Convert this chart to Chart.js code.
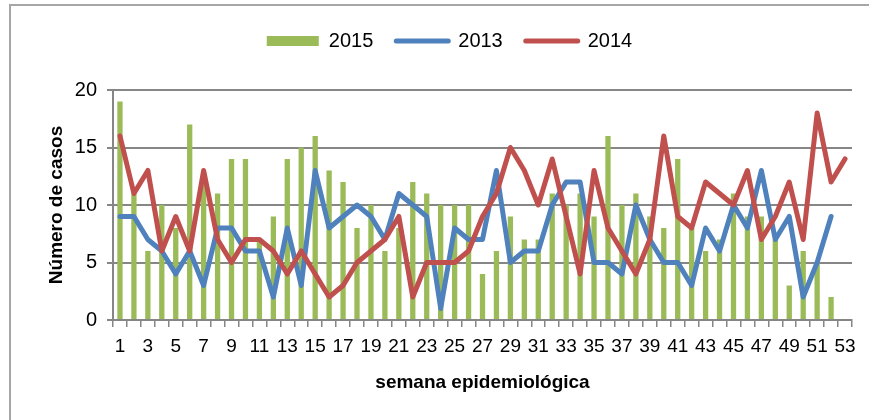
<!DOCTYPE html>
<html>
<head>
<meta charset="utf-8">
<script src="https://cdn.jsdelivr.net/npm/chart.js@4"></script>
<style>
  body { margin: 0; background: #fff; }
  canvas { display: block; }
</style>
</head>
<body>
<canvas id="casosChart" width="869" height="420"></canvas>
<script>
// semana epidemiológica 1..53
var weeks = [1, 2, 3, 4, 5, 6, 7, 8, 9, 10, 11, 12, 13, 14, 15, 16, 17, 18, 19, 20,
             21, 22, 23, 24, 25, 26, 27, 28, 29, 30, 31, 32, 33, 34, 35, 36, 37, 38, 39, 40,
             41, 42, 43, 44, 45, 46, 47, 48, 49, 50, 51, 52, 53];

var casos2015 = [19, 11, 6, 10, 8, 17, 12, 11, 14, 14, 7, 9, 14, 15, 16, 13, 12, 8, 10, 6,
                 8, 12, 11, 10, 10, 10, 4, 6, 9, 7, 7, 11, 10, 11, 9, 16, 10, 11, 9, 8,
                 14, 8, 6, 7, 11, 9, 9, 7, 3, 6, 5, 2, null];

var casos2013 = [9, 9, 7, 6, 4, 6, 3, 8, 8, 6, 6, 2, 8, 3, 13, 8, 9, 10, 9, 7,
                 11, 10, 9, 1, 8, 7, 7, 13, 5, 6, 6, 10, 12, 12, 5, 5, 4, 10, 7, 5,
                 5, 3, 8, 6, 10, 8, 13, 7, 9, 2, 5, 9, null];

var casos2014 = [16, 11, 13, 6, 9, 6, 13, 7, 5, 7, 7, 6, 4, 6, 4, 2, 3, 5, 6, 7,
                 9, 2, 5, 5, 5, 6, 9, 11, 15, 13, 10, 14, 9, 4, 13, 8, 6, 4, 7, 16,
                 9, 8, 12, 11, 10, 13, 7, 9, 12, 7, 18, 12, 14];

const GREEN = '#9bbb59';
const BLUE = '#4f81bd';
const RED = '#c0504d';
const AXIS_GRAY = '#868686';

Chart.defaults.font.family = "'Liberation Sans Narrow', 'Arial Narrow', 'Liberation Sans', Arial, sans-serif";
Chart.defaults.color = '#000';

// light frame round the chart (left and top edges only)
var framePlugin = {
    id: 'frame',
    beforeDraw: function(chart){
        const ctx = chart.ctx;
        ctx.save();
        ctx.strokeStyle = '#a6a6a6';
        ctx.lineWidth = 2;
        ctx.beginPath();
        ctx.moveTo(10, 420);
        ctx.lineTo(10, 5);
        ctx.lineTo(869, 5);
        ctx.stroke();
        ctx.restore();
    }
};

// keep the legend block a fixed height so the plot starts where it should
var legendHeightPlugin = {
    id: 'legendHeight',
    beforeLayout: function(chart){
        const legend = chart.legend;
        if(legend && !legend._fixedFit){
            const origFit = legend.fit;
            legend.fit = function(){
                origFit.call(this);
                this.height = 82;
            };
            legend._fixedFit = true;
        }
    }
};

const ctx = document.getElementById('casosChart');
new Chart(ctx, {
    type: 'bar',
    data: {
        labels: weeks,
        datasets: [
            {
                type: 'bar',
                label: '2015',
                data: casos2015,
                backgroundColor: GREEN,
                borderWidth: 0,
                barPercentage: 0.38,
                categoryPercentage: 1.0,
                order: 3
            },
            {
                type: 'line',
                label: '2013',
                data: casos2013,
                borderColor: BLUE,
                backgroundColor: BLUE,
                borderWidth: 5,
                borderJoinStyle: 'round',
                borderCapStyle: 'round',
                pointRadius: 0,
                tension: 0,
                fill: false,
                order: 2
            },
            {
                type: 'line',
                label: '2014',
                data: casos2014,
                borderColor: RED,
                backgroundColor: RED,
                borderWidth: 5,
                borderJoinStyle: 'round',
                borderCapStyle: 'round',
                pointRadius: 0,
                tension: 0,
                fill: false,
                order: 1
            }
        ]
    },
    options: {
        responsive: false,
        animation: false,
        layout: {
            padding: { left: 47, right: 17, top: 8, bottom: 28 }
        },
        plugins: {
            tooltip: { enabled: false },
            legend: {
                position: 'top',
                labels: {
                    usePointStyle: true,
                    pointStyleWidth: 52,
                    boxHeight: 10,
                    padding: 23,
                    font: { size: 20 },
                    sort: function(a, b){ return a.datasetIndex - b.datasetIndex; },
                    generateLabels: function(chart){
                        const items = Chart.defaults.plugins.legend.labels.generateLabels(chart);
                        items.forEach(function(item){
                            const ds = chart.data.datasets[item.datasetIndex];
                            if(ds.type === 'line'){
                                item.pointStyle = 'line';
                                item.lineWidth = 5;
                                item.strokeStyle = ds.borderColor;
                                item.lineCap = 'round';
                            } else {
                                item.pointStyle = 'rect';
                                item.lineWidth = 0;
                                item.fillStyle = ds.backgroundColor;
                            }
                        });
                        return items;
                    }
                }
            }
        },
        scales: {
            x: {
                type: 'category',
                offset: true,
                grid: {
                    offset: true,
                    drawOnChartArea: false,
                    tickLength: 7,
                    color: AXIS_GRAY,
                    lineWidth: 1.5
                },
                border: { color: AXIS_GRAY, width: 2 },
                ticks: {
                    autoSkip: false,
                    maxRotation: 0,
                    padding: 8,
                    font: { size: 19 },
                    callback: function(value, index){
                        return index % 2 === 0 ? this.getLabelForValue(value) : '';
                    }
                },
                title: {
                    display: true,
                    text: 'semana epidemiológica',
                    font: { size: 19, weight: 'bold', lineHeight: 1 },
                    padding: 0
                },
                afterFit: function(scale){ scale.height = 72; }
            },
            y: {
                min: 0,
                max: 20,
                grid: {
                    color: AXIS_GRAY,
                    lineWidth: 2,
                    tickLength: 6
                },
                border: { color: AXIS_GRAY, width: 2 },
                ticks: {
                    stepSize: 5,
                    padding: 10,
                    font: { size: 20 }
                },
                title: {
                    display: true,
                    text: 'Número de casos',
                    font: { size: 19, weight: 'bold', lineHeight: 1 },
                    padding: 0
                },
                afterFit: function(scale){ scale.width = 66; }
            }
        }
    },
    plugins: [framePlugin, legendHeightPlugin]
});
</script>
</body>
</html>
